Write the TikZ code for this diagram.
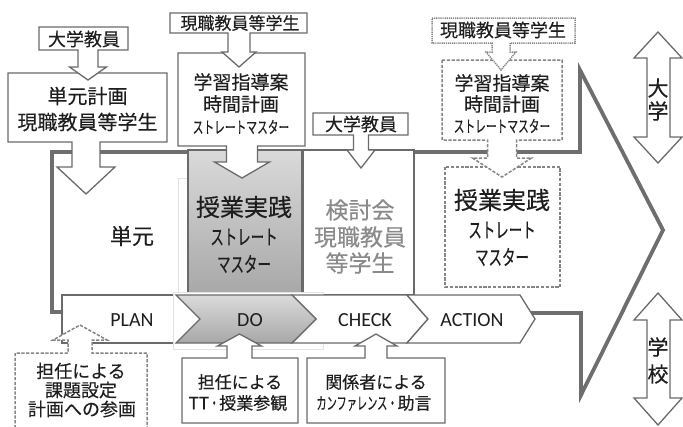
\documentclass[tikz,border=0pt]{standalone}
\usepackage{fontspec}
\setmainfont[FakeBold=0.25]{Noto Sans CJK JP}
\newfontfamily\lat{Carlito}
\usetikzlibrary{calc}
\definecolor{lc}{HTML}{6E6E6E}
\definecolor{bc}{HTML}{6A6A6A}
\definecolor{tc}{HTML}{1E1E1E}
\definecolor{gt}{HTML}{8A8A8A}
\definecolor{dc}{HTML}{858585}
\newcommand{\fsz}[1]{\fontsize{#1}{#1}\selectfont}
\newcommand{\nk}[2]{\scalebox{#1}[1]{#2}}
% callout: x1,x2,ya(attached edge),yb(other edge),cx,stem half,wing half,neck,tip
\newcommand{\callout}[9]{(#1,#4) -- (#2,#4) -- (#2,#3) -- ({#5+#6},#3) -- ({#5+#6},#8) -- ({#5+#7},#8) -- (#5,#9) -- ({#5-#7},#8) -- ({#5-#6},#8) -- ({#5-#6},#3) -- (#1,#3) -- cycle}
\tikzset{
  bx/.style={draw=bc, line width=1.3pt, fill=white, line join=miter},
  dbx/.style={draw=dc, line width=1.5pt, fill=white, dash pattern=on 3.2pt off 1.6pt},
  obx/.style={draw=dc, line width=1.5pt, fill=white, dash pattern=on 1.2pt off 0.9pt},
  outl/.style={draw=lc, line width=3.8pt, line join=miter},
  shd/.style={draw=bc, line width=1.3pt, top color={rgb,255:red,218;green,218;blue,218}, bottom color={rgb,255:red,168;green,168;blue,168}},
  frm/.style={draw=gray!22, line width=0.8pt, fill=white},
  txt/.style={inner sep=0pt, text=tc},
}
\begin{document}
\begin{tikzpicture}[x=1pt,y=-1pt]
\useasboundingbox (0,0) rectangle (683,426);
\clip (0,0) rectangle (683,426);
% big outline
\coordinate (o1) at (62,312);
\coordinate (o2) at (52,312);
\coordinate (o3) at (52,152);
\coordinate (o4) at (580,152);
\coordinate (o5) at (580,70);
\coordinate (o6) at (663,230);
\coordinate (o7) at (581,395);
\coordinate (o8) at (581,313);
\coordinate (o9) at (528,313);
\draw[outl] (o1) -- (o2) -- (o3) -- (o4) -- (o5) -- (o6) -- (o7) -- (o8) -- (o9);

% left column
\draw[bx] \callout{8}{167}{142}{73}{86}{14}{29}{167}{194};
\draw[bx] \callout{39}{128}{50}{27}{88}{10}{18.5}{67}{80};
\node[txt, font=\fsz{18}] (t1) at (84,39) {大学教員};
\node[txt, font=\fsz{20}] (t2a) at (87.5,96) {単元計画};
\node[txt, font=\fsz{20}] (t2b) at (87.5,122) {現職教員等学生};
\node[txt, font=\fsz{22}] (t3) at (132,236) {単元};

% middle column
\draw[frm] (178,178) rectangle (300,293);
\draw[shd] (188,150) rectangle (302,293);
\draw[bx] (303,150) rectangle (414,295);
\draw[bx] \callout{178}{305}{146}{53}{242}{15.5}{27.5}{162}{178};
\draw[bx] \callout{170}{307}{33}{13}{239}{11}{17}{52}{67};
\draw[bx] \callout{313}{408}{135}{113}{361}{7.5}{14}{150}{168};
\node[txt, font=\fsz{17}] (t4) at (240,23) {現職教員等学生};
\node[txt, font=\fsz{19}] (t5a) at (241,82) {学習指導案};
\node[txt, font=\fsz{19}] (t5b) at (241,104) {時間計画};
\node[txt, font=\fsz{16.5}] (t5c) at (241,127) {\nk{0.65}{ストレートマスター}};
\node[txt, font=\fsz{24}] (t6a) at (244,207) {授業実践};
\node[txt, font=\fsz{21}] (t6b) at (244,237) {\nk{0.64}{ストレート}};
\node[txt, font=\fsz{21}] (t6c) at (244,264) {\nk{0.64}{マスター}};
\node[txt, font=\fsz{18}] (t7) at (361,124) {大学教員};
\node[txt, font=\fsz{23}, text=gt] (t8a) at (360,210) {検討会};
\node[txt, font=\fsz{23}, text=gt] (t8b) at (360,237) {現職教員};
\node[txt, font=\fsz{23}, text=gt] (t8c) at (360,263) {等学生};

% right column (dashed)
\draw[dbx] (445,167) rectangle (560,287);
\draw[dbx] \callout{442}{562}{140}{60}{502}{14.5}{29.5}{158}{177};
\draw[obx] \callout{432}{575}{43}{18}{501}{9}{15}{52}{70};
\node[txt, font=\fsz{18}] (t9) at (503,30) {現職教員等学生};
\node[txt, font=\fsz{19}] (t10a) at (502,83) {学習指導案};
\node[txt, font=\fsz{19}] (t10b) at (502,104) {時間計画};
\node[txt, font=\fsz{16.5}] (t10c) at (502,126) {\nk{0.65}{ストレートマスター}};
\node[txt, font=\fsz{24}] (t11a) at (502,200) {授業実践};
\node[txt, font=\fsz{21}] (t11b) at (502,230) {\nk{0.64}{ストレート}};
\node[txt, font=\fsz{21}] (t11c) at (502,257) {\nk{0.64}{マスター}};

% PDCA
\draw[bx] (62,295) rectangle (200,343);
\draw[frm] (173,292) rectangle (323,349);
\draw[bx] (292,295) -- (407,295) -- (428,319) -- (407,343) -- (292,343) -- (316,319) -- cycle;
\draw[bx] (407,295) -- (520,295) -- (535,319) -- (520,343) -- (407,343) -- (428,319) -- cycle;
\draw[shd] (176,295) -- (292,295) -- (316,319) -- (292,343) -- (176,343) -- (200,319) -- cycle;
\node[txt, font=\lat\fsz{20}] (p) at (132,320) {PLAN};
\node[txt, font=\lat\fsz{20}] (d) at (250,320) {DO};
\node[txt, font=\lat\fsz{20}] (c) at (365,320) {CHECK};
\node[txt, font=\lat\fsz{20}] (a) at (472,320) {ACTION};

% bottom callouts
\draw[dbx] \callout{15}{147}{353}{432}{80}{12}{27}{340}{325};
\draw[bx] \callout{182}{298}{358}{423}{239.5}{12.5}{22}{346}{334};
\draw[bx] \callout{307}{445}{358}{423}{376}{11}{21}{346}{334};
\node[txt, font=\fsz{18}] (b1a) at (81,371) {担任による};
\node[txt, font=\fsz{18}] (b1b) at (81,390) {課題設定};
\node[txt, font=\fsz{18}] (b1c) at (82,409) {計画への参画};
\node[txt, font=\fsz{17}] (b2a) at (240,382) {担任による};
\node[txt, font=\fsz{17}] (b2b) at (238,403) {TT\nk{0.6}{・}授業参観};
\node[txt, font=\fsz{17}] (b3a) at (376,382) {関係者による};
\node[txt, font=\fsz{17}] (b3b) at (374,403) {\nk{0.6}{カンファレンス・}助言};

% side double arrows
\draw[bx] (658,32) -- (682,58) -- (670,58) -- (670,137) -- (682,137) -- (658,163) -- (634,137) -- (647,137) -- (647,58) -- (634,58) -- cycle;
\draw[bx] (658,293) -- (682,320) -- (670,320) -- (670,398) -- (682,398) -- (658,425) -- (634,398) -- (647,398) -- (647,320) -- (634,320) -- cycle;
\node[txt, font=\fsz{21}] (u1) at (658,88) {大};
\node[txt, font=\fsz{21}] (u2) at (658,111) {学};
\node[txt, font=\fsz{21}] (s1) at (658,347) {学};
\node[txt, font=\fsz{21}] (s2) at (658,374) {校};
\end{tikzpicture}
\end{document}
